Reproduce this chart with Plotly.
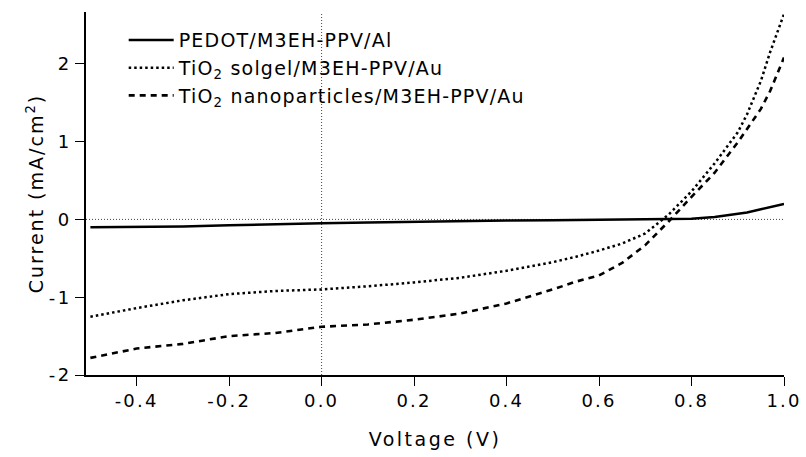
import plotly.graph_objects as go

# ---- data ----
voltage = [-0.5, -0.4, -0.3, -0.2, -0.1, 0.0, 0.1, 0.2, 0.3, 0.4, 0.5, 0.55,
           0.6, 0.65, 0.7, 0.75, 0.8, 0.85, 0.9, 0.92, 0.95, 0.97, 1.0]

pedot = [-0.10, -0.095, -0.09, -0.075, -0.06, -0.05, -0.04, -0.03, -0.02, -0.015,
         -0.01, -0.008, -0.005, -0.002, 0.0, 0.005, 0.01, 0.03, 0.07, 0.09, 0.13, 0.16, 0.20]

solgel = [-1.25, -1.14, -1.04, -0.96, -0.92, -0.90, -0.86, -0.81, -0.75, -0.66,
          -0.55, -0.48, -0.40, -0.31, -0.18, 0.06, 0.36, 0.72, 1.12, 1.35, 1.78, 2.15, 2.64]

nano = [-1.78, -1.66, -1.60, -1.50, -1.46, -1.38, -1.35, -1.29, -1.21, -1.08,
        -0.90, -0.80, -0.72, -0.56, -0.33, -0.03, 0.29, 0.60, 0.99, 1.16, 1.42, 1.65, 2.08]

names = ["PEDOT/M3EH-PPV/Al",
         "TiO<sub>2</sub> solgel/M3EH-PPV/Au",
         "TiO<sub>2</sub> nanoparticles/M3EH-PPV/Au"]

xticks = [-0.4, -0.2, 0.0, 0.2, 0.4, 0.6, 0.8, 1.0]
xticklabels = ["-0.4", "-0.2", "0.0", "0.2", "0.4", "0.6", "0.8", "1.0"]
yticks = [-2, -1, 0, 1, 2]
yticklabels = ["-2", "-1", "0", "1", "2"]

FONT = "DejaVu Sans"


def sp(t, ls):
    return f'<span style="letter-spacing:{ls}px">{t}</span>'


fig = go.Figure()
fig.add_trace(go.Scatter(x=voltage, y=pedot, mode="lines", name=sp(names[0], 1.2),
                         line=dict(color="black", width=2.5, dash="solid")))
fig.add_trace(go.Scatter(x=voltage, y=solgel, mode="lines", name=sp(names[1], 1.2),
                         line=dict(color="black", width=2.5, dash="2.5px,3px")))
fig.add_trace(go.Scatter(x=voltage, y=nano, mode="lines", name=sp(names[2], 1.2),
                         line=dict(color="black", width=2.6, dash="6px,5px")))

# dotted zero reference lines
fig.add_shape(type="line", xref="paper", yref="y", x0=0, x1=1, y0=0, y1=0,
              line=dict(color="#444", width=1, dash="1px,2px"), layer="below")
fig.add_shape(type="line", xref="x", yref="paper", x0=0, x1=0, y0=0, y1=1,
              line=dict(color="#444", width=1, dash="1px,2px"), layer="below")

fig.update_layout(
    width=806, height=457,
    margin=dict(l=86, r=22, t=12, b=82),
    paper_bgcolor="white", plot_bgcolor="white",
    font=dict(family=FONT, size=18, color="black"),
    showlegend=True,
    legend=dict(x=0.054, y=0.975, xanchor="left", yanchor="top",
                bgcolor="rgba(0,0,0,0)", borderwidth=0,
                font=dict(family=FONT, size=19, color="black"),
                itemwidth=45, tracegroupgap=0),
    xaxis=dict(range=[-0.5095, 1.0], showgrid=False, zeroline=False,
               showline=True, linecolor="black", linewidth=1.5, automargin=False,
               ticks="outside", ticklen=9, tickwidth=1.2, tickcolor="black",
               tickvals=xticks, ticktext=[sp(t, 2.2) for t in xticklabels],
               tickfont=dict(family=FONT, size=18),
               title=dict(text=sp("Voltage (V)", 2.5),
                          font=dict(family=FONT, size=19), standoff=22)),
    yaxis=dict(range=[-2.0, 2.666], showgrid=False, zeroline=False,
               showline=True, linecolor="black", linewidth=1.5, automargin=False,
               ticks="outside", ticklen=9, tickwidth=1.2, tickcolor="black",
               tickvals=yticks, ticktext=[sp(t, 2.5) for t in yticklabels],
               tickfont=dict(family=FONT, size=18),
               title=dict(text=sp("Current (mA/cm<sup>2</sup>)", 2),
                          font=dict(family=FONT, size=19), standoff=0)),
)

fig.write_html("out.html")
